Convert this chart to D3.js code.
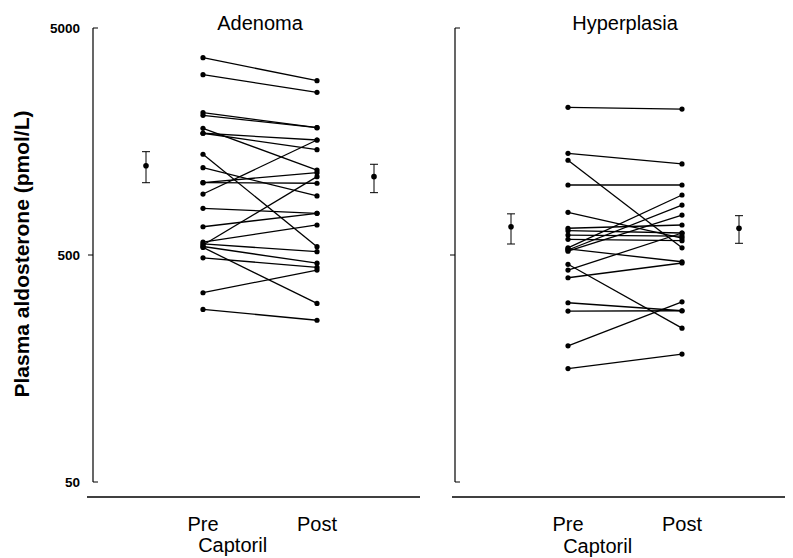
<!DOCTYPE html>
<html lang="en">
<head>
    <meta charset="UTF-8">
    <title>Captopril aldosterone</title>
    <script src="https://d3js.org/d3.v7.min.js"></script>
    <style>
        body { margin: 0; background: #fff; }
        text { font-family: 'Liberation Sans', Arial, sans-serif; fill: #000; }
    </style>
</head>
<body>
<script>

    const width  = 793;
    const height = 558;

    const phases = ['Pre', 'Post'];
    const yTicks = [50, 500, 5000];

    // Adenoma, one value pair per patient (pmol/L)
    const adenomaPre  = [3700, 3114, 2118, 2062, 1807, 1719, 1719, 1389, 1212, 1041, 1041,
                         928, 803, 666, 553, 570, 560, 545, 540, 486, 341, 288];
    const adenomaPost = [2929, 2605, 1819, 1819, 1184, 1605, 1455, 544, 910, 1035, 1153,
                         1605, 763, 763, 1107, 678, 517, 460, 306, 441, 429, 258];
    const adenomaMean = [1237, 1107];
    const adenomaLow  = [1041, 941];
    const adenomaHigh = [1426, 1255];

    // Hyperplasia
    const hyperPre  = [2236, 1403, 1307, 1017, 771, 656, 640, 612, 586, 537,
                       526, 520, 532, 455, 429, 397, 308, 283, 199, 158];
    const hyperPost = [2198, 1259, 538, 1017, 594, 678, 625, 606, 578, 919,
                       830, 750, 467, 238, 625, 461, 284, 284, 311, 183];
    const hyperMean = [666, 656];
    const hyperLow  = [559, 563];
    const hyperHigh = [759, 745];

    const panels = [
        {title: 'Adenoma', axisX: 93, lineX: [87, 420], pre: 203, post: 317, capY: 552,
         preV: adenomaPre, postV: adenomaPost, mean: adenomaMean, lo: adenomaLow, hi: adenomaHigh},
        {title: 'Hyperplasia', axisX: 455, lineX: [452, 785], pre: 568, post: 682, capY: 553,
         preV: hyperPre, postV: hyperPost, mean: hyperMean, lo: hyperLow, hi: hyperHigh}
    ];

    const y = d3.scaleLog()
            .domain([50, 5000])
            .range([482, 28]);

    const svg = d3.select("body")
            .append("svg")
            .attr("width", width)
            .attr("height", height);

    // y axis label
    svg.append("text")
            .attr("transform", "translate(29,254) rotate(-90)")
            .attr("text-anchor", "middle")
            .style("font-size", "21px")
            .style("font-weight", "bold")
            .text("Plasma aldosterone (pmol/L)");

    // tick labels on the left panel only
    svg.selectAll(".ylab")
            .data(yTicks)
            .enter()
            .append("text").attr("class", "ylab")
            .attr("x", 80)
            .attr("y", d => y(d) + 5)
            .attr("text-anchor", "end")
            .style("font-size", "13.5px")
            .style("font-weight", "bold")
            .text(d => d);

    panels.forEach(p => draw(p));

    function draw(p) {
        const x = d3.scaleLinear()
                .domain([0, 1])
                .range([p.pre, p.post]);

        const g = svg.append("g");

        // vertical axis
        g.append("line")
                .attr("x1", p.axisX).attr("x2", p.axisX)
                .attr("y1", y(5000)).attr("y2", y(50))
                .attr("stroke", "#000").attr("stroke-width", 1.2);
        g.selectAll(".tick")
                .data(yTicks)
                .enter()
                .append("line").attr("class", "tick")
                .attr("x1", p.axisX)
                .attr("x2", d => d === 500 ? p.axisX - 5 : p.axisX + 5)
                .attr("y1", d => y(d)).attr("y2", d => y(d))
                .attr("stroke", "#000").attr("stroke-width", 1);

        // horizontal base line
        g.append("line")
                .attr("x1", p.lineX[0]).attr("x2", p.lineX[1])
                .attr("y1", 497).attr("y2", 497)
                .attr("stroke", "#000").attr("stroke-width", 1.3);

        g.append("text")
                .attr("x", (p.pre + p.post) / 2)
                .attr("y", 30)
                .attr("text-anchor", "middle")
                .style("font-size", "20px")
                .text(p.title);

        g.selectAll(".phase")
                .data(phases)
                .enter()
                .append("text").attr("class", "phase")
                .attr("x", (d, i) => x(i))
                .attr("y", 531)
                .attr("text-anchor", "middle")
                .style("font-size", "20px")
                .text(d => d);

        g.append("text")
                .attr("x", x(0.26))
                .attr("y", p.capY)
                .attr("text-anchor", "middle")
                .style("font-size", "20px")
                .text("Captoril");

        // patient lines
        const pairs = p.preV.map((v, i) => [v, p.postV[i]]);
        g.selectAll(".pair")
                .data(pairs)
                .enter()
                .append("line").attr("class", "pair")
                .attr("x1", x(0)).attr("x2", x(1))
                .attr("y1", d => y(d[0])).attr("y2", d => y(d[1]))
                .attr("stroke", "#000").attr("stroke-width", 1.3);

        const dots = [];
        pairs.forEach(d => { dots.push([0, d[0]]); dots.push([1, d[1]]); });
        g.selectAll(".dot")
                .data(dots)
                .enter()
                .append("circle").attr("class", "dot")
                .attr("cx", d => x(d[0]))
                .attr("cy", d => y(d[1]))
                .attr("r", 2.6)
                .attr("fill", "#000");

        // means with error bars, outside the paired columns
        const m = p.mean.map((v, i) => ({pos: i === 0 ? -0.5 : 1.5, v: v, lo: p.lo[i], hi: p.hi[i]}));
        const eb = g.selectAll(".mean")
                .data(m)
                .enter()
                .append("g").attr("class", "mean");
        eb.append("line")
                .attr("x1", d => x(d.pos)).attr("x2", d => x(d.pos))
                .attr("y1", d => y(d.hi)).attr("y2", d => y(d.lo))
                .attr("stroke", "#000").attr("stroke-width", 1);
        ['hi', 'lo'].forEach(k => {
            eb.append("line")
                    .attr("x1", d => x(d.pos) - 4).attr("x2", d => x(d.pos) + 4)
                    .attr("y1", d => y(d[k])).attr("y2", d => y(d[k]))
                    .attr("stroke", "#000").attr("stroke-width", 1);
        });
        eb.append("circle")
                .attr("cx", d => x(d.pos))
                .attr("cy", d => y(d.v))
                .attr("r", 2.8)
                .attr("fill", "#000");
    }

</script>
</body>
</html>
